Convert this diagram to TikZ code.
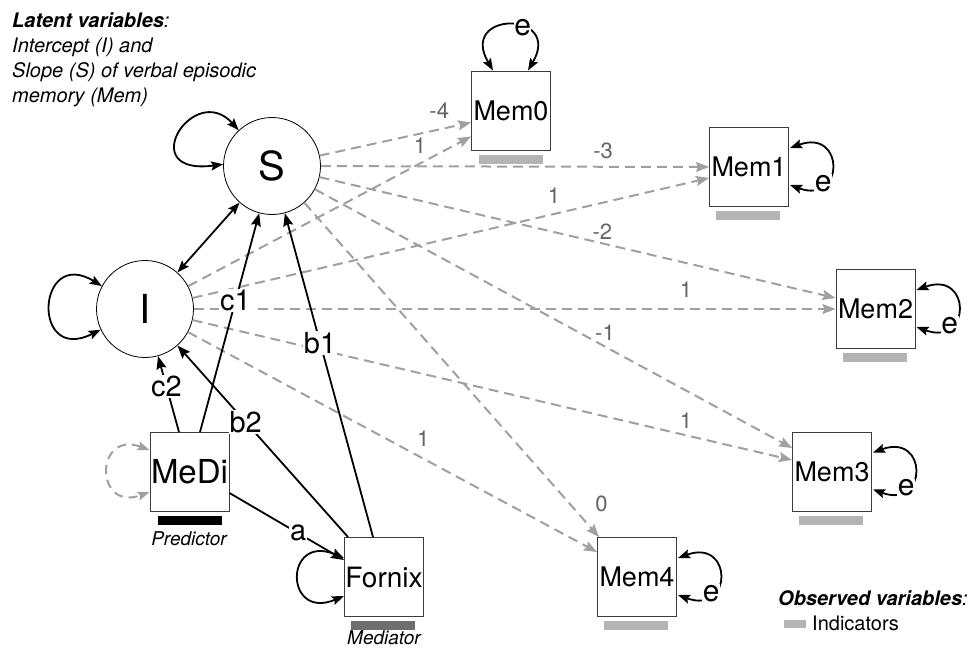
\documentclass[tikz,border=0pt]{standalone}
\usepackage{fontspec}
\setmainfont{TeX Gyre Heros}
\usetikzlibrary{arrows.meta,calc}
\definecolor{edgegray}{RGB}{160,160,160}
\definecolor{labgray}{RGB}{100,100,100}
\definecolor{indgray}{RGB}{180,180,180}
\definecolor{medgray}{RGB}{110,110,110}
\definecolor{boxline}{RGB}{60,60,60}
\begin{document}
\begin{tikzpicture}[x=1pt,y=-1pt,
  latent/.style={circle,draw=black,line width=0.8pt,fill=white,minimum size=97pt,inner sep=0pt,font=\fontsize{40}{40}\selectfont},
  manifest/.style={rectangle,draw=boxline,line width=1pt,fill=white,minimum size=79pt,inner sep=0pt,font=\fontsize{27}{27}\selectfont},
  load/.style={draw=edgegray,line width=2pt,dash pattern=on 10pt off 6pt,-{Stealth[length=13pt,width=10pt,inset=2pt]}},
  coef/.style={text=labgray,font=\fontsize{22}{22}\selectfont,inner sep=0pt},
  regpath/.style={draw=black,line width=1.8pt,-{Stealth[length=13pt,width=10pt,inset=2pt]}},
  plab/.style={fill=white,inner sep=1pt,font=\fontsize{29}{29}\selectfont},
  varloop/.style={draw=black,line width=1.8pt,{Stealth[length=12pt,width=9pt,inset=2pt]}-{Stealth[length=12pt,width=9pt,inset=2pt]}},
  medloop/.style={draw=edgegray,line width=2pt,dash pattern=on 9pt off 6pt,{Stealth[length=12pt,width=9pt,inset=2pt]}-{Stealth[length=12pt,width=9pt,inset=2pt]}},
  elab/.style={fill=white,inner sep=0.5pt,font=\fontsize{30}{30}\selectfont},
  bar/.style={fill=#1,minimum width=64pt,minimum height=9pt,inner sep=0pt},
  legtext/.style={anchor=base west,inner sep=0pt,font=\fontsize{20}{20}\selectfont},
  rolelab/.style={inner sep=0pt,font=\fontsize{19}{19}\selectfont\itshape}
]
\useasboundingbox (0,0) rectangle (969,649);

% nodes
\node[latent] (S) at (272,166) {S};
\node[latent] (I) at (145,309) {I};
\node[manifest] (Mem0) at (511,110.5) {Mem0};
\node[manifest] (Mem1) at (749,167) {Mem1};
\node[manifest] (Mem2) at (875.5,309) {Mem2};
\node[manifest] (Mem3) at (832,471.5) {Mem3};
\node[manifest] (Mem4) at (637,577) {Mem4};
\node[manifest,font=\fontsize{33}{33}\selectfont] (MeDi) at (189.5,472) {MeDi};
\node[manifest,font=\fontsize{28}{28}\selectfont] (Fornix) at (384,577) {Fornix};

% indicator bars
\node[bar=indgray] (bar0) at ($(Mem0.south)+(0,8.5)$) {};
\node[bar=indgray] (bar1) at ($(Mem1.south)+(-1,8.5)$) {};
\node[bar=indgray] (bar2) at ($(Mem2.south)+(-1,8.5)$) {};
\node[bar=indgray] (bar3) at ($(Mem3.south)+(-1,8.5)$) {};
\node[bar=indgray] (bar4) at ($(Mem4.south)+(-1,8.5)$) {};
\node[bar=black] (barMeDi) at ($(MeDi.south)+(0,8.5)$) {};
\node[bar=medgray] (barFornix) at ($(Fornix.south)+(-1,8.5)$) {};
\node[rolelab] (pred) at (189,539) {Predictor};
\node[rolelab] (medi) at (384,638) {Mediator};

% loadings
\draw[load] (S) -- ($(Mem0.west)+(0,12)$) node[coef,pos=0.79,yshift=19pt]{-4};
\draw[load] (I) -- ($(Mem0.west)+(0,26)$) node[coef,pos=0.82,yshift=18pt]{1};
\draw[load] (S) -- (Mem1.west) node[coef,pos=0.727,yshift=16pt]{-3};
\draw[load] (I) -- ($(Mem1.west)+(0,11)$) node[coef,pos=0.70,yshift=18pt]{1};
\draw[load] (S) -- ($(Mem2.west)+(0,-11)$) node[coef,pos=0.548,yshift=12pt]{-2};
\draw[load] (I) -- (Mem2.west) node[coef,pos=0.767,yshift=19pt]{1};
\draw[load] (S) -- ($(Mem3.west)+(0,-23.5)$) node[coef,pos=0.608,yshift=14pt]{-1};
\draw[load] (I) -- ($(Mem3.west)+(0,-11.5)$) node[coef,pos=0.823,yshift=15pt]{1};
\draw[load] (S) -- ($(Mem4.north west)+(2,0)$) node[coef,pos=0.9,xshift=32pt]{0};
\draw[load] (I) -- ($(Mem4.west)+(0,-25)$) node[coef,pos=0.575,yshift=20pt]{1};

% variances
\draw[varloop] (S.133) .. controls +(-45,-50) and +(-90,12) .. (S.178);
\draw[varloop] (I.152) .. controls +(-65,-40) and +(-70,35) .. (I.205);
\draw[medloop] ($(MeDi.west)+(0,-22)$) .. controls +(-55,-20) and +(-55,20) .. ($(MeDi.west)+(0,20)$);
\draw[varloop] ($(Fornix.west)+(0,-19)$) .. controls +(-60,-25) and +(-60,25) .. ($(Fornix.west)+(0,19)$);
\draw[varloop] ($(Mem0.north)+(-18,0)$) .. controls +(-35,-60) and +(35,-60) .. ($(Mem0.north)+(17,0)$) node[elab,pos=0.62]{e};
\draw[varloop] ($(Mem1.east)+(1,-19)$) .. controls +(55,-20) and +(55,20) .. ($(Mem1.east)+(1,18)$) node[elab,pos=0.72]{e};
\draw[varloop] ($(Mem2.east)+(1,-19)$) .. controls +(55,-20) and +(55,20) .. ($(Mem2.east)+(1,18)$) node[elab,pos=0.72]{e};
\draw[varloop] ($(Mem3.east)+(1,-19)$) .. controls +(55,-20) and +(55,20) .. ($(Mem3.east)+(1,18)$) node[elab,pos=0.72]{e};
\draw[varloop] ($(Mem4.east)+(1,-19)$) .. controls +(55,-20) and +(55,20) .. ($(Mem4.east)+(1,18)$) node[elab,pos=0.72]{e};

% covariance I - S
\draw[varloop] (I) -- (S);

% regressions
\draw[regpath] ($(MeDi.north)+(10.5,0)$) -- (S) node[plab,pos=0.6]{c1};
\draw[regpath] ($(MeDi.north)+(-10.5,0)$) -- (I) node[plab,pos=0.6]{c2};
\draw[regpath] ($(Fornix.north west)+(4,0)$) -- (I) node[plab,pos=0.6]{b2};
\draw[regpath] ($(Fornix.north)+(-11,0)$) -- (S) node[plab,pos=0.6]{b1};
\draw[regpath] ($(MeDi.east)+(0,21)$) -- ($(Fornix.west)+(0,-17)$) node[plab,pos=0.6]{a};

% legends
\node[legtext] (legA) at (12,27) {\textbf{\textit{Latent variables}}\textit{:}};
\node[legtext] (legB) at (12,52) {\textit{Intercept (I) and}};
\node[legtext] (legC) at (12,77) {\textit{Slope (S) of verbal episodic}};
\node[legtext] (legD) at (12,102) {\textit{memory (Mem)}};
\node[legtext] (legObs) at (778,605) {\textbf{\textit{Observed variables}}\textit{:}};
\node[fill=indgray,minimum width=22pt,minimum height=8pt,inner sep=0pt] (legBar) at (795,624) {};
\node[legtext] (legInd) at (812,630) {Indicators};
\end{tikzpicture}
\end{document}
